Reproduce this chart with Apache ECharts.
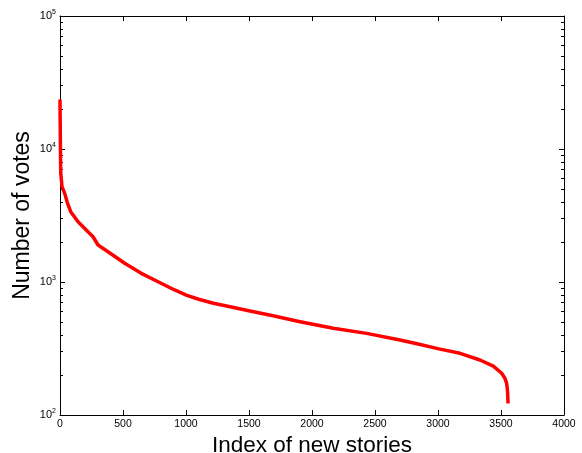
<!DOCTYPE html>
<html><head><meta charset="utf-8">
<script src="https://cdn.jsdelivr.net/npm/echarts@6/dist/echarts.min.js"></script>
<style>html,body{margin:0;padding:0;background:#fff}#c{width:582px;height:453px}</style>
</head><body><div id="c"></div>
<script>
var storyIndex = [0,2,4,6,16,37,60,85,143,222,262,302,381,513,645,778,910,1002,1100,1217,1360,1508,1700,1905,2169,2434,2698,2850,3016,3175,3333,3439,3505,3530,3545,3552,3556];
var votes = [23600,14000,9000,6560,5210,4645,3900,3380,2840,2390,2190,1898,1690,1383,1162,1005,871,798,742,692,648,605,555,503,449,411,366,340,313,291,259,233,206,190,173,150,122];
var xTicks = [0,500,1000,1500,2000,2500,3000,3500,4000];
var yMajor = [100,1000,10000,100000];
var yMinor = [];
[100,1000,10000].forEach(function(d){for(var k=2;k<=9;k++)yMinor.push(d*k);});

var pts = storyIndex.map(function(x,i){return [x,votes[i]];});
var font = 'Liberation Sans, Arial, sans-serif';
var chart = echarts.init(document.getElementById('c'));
var yLab = {
  fontFamily: font, color:'#000', margin: 4,
  formatter: function(v){ var e=Math.round(Math.log10(v)); return '{b|10}{s|'+e+'}'; },
  rich: { b:{fontSize:11, fontFamily:font, color:'#000'}, s:{fontSize:7, fontFamily:font, color:'#000', padding:[0,0,8,0]} }
};
chart.setOption({
  animation:false,
  grid:{left:60,right:18,top:16,bottom:38,containLabel:false,outerBoundsMode:'none'},
  xAxis:[{
    type:'value',min:0,max:4000,interval:500,
    name:'Index of new stories',nameLocation:'middle',nameGap:19,nameMoveOverlap:false,
    nameTextStyle:{fontSize:22.5,fontFamily:font,color:'#000',verticalAlign:'top'},
    axisLine:{show:true,lineStyle:{color:'#000',width:1}},
    axisTick:{show:true,inside:true,length:5,lineStyle:{color:'#000'},customValues:xTicks},
    axisLabel:{fontSize:10.5,fontFamily:font,color:'#000',margin:4,customValues:xTicks,formatter:function(v){return String(v);}},
    splitLine:{show:false}
  },{
    type:'value',min:0,max:4000,interval:500,position:'top',
    axisLine:{show:true,onZero:false,lineStyle:{color:'#000',width:1}},
    axisTick:{show:true,inside:true,length:5,lineStyle:{color:'#000'},customValues:xTicks},
    axisLabel:{show:false},splitLine:{show:false}
  }],
  yAxis:[{
    type:'log',logBase:10,min:100,max:100000,
    name:'Number of votes',nameLocation:'middle',nameGap:26,nameMoveOverlap:false,
    nameTextStyle:{fontSize:23,fontFamily:font,color:'#000'},
    axisLine:{show:true,lineStyle:{color:'#000',width:1}},
    axisTick:{show:true,inside:true,length:5,lineStyle:{color:'#000'},customValues:yMajor},
    axisLabel:Object.assign({customValues:yMajor},yLab),
    splitLine:{show:false}
  },{
    type:'log',logBase:10,min:100,max:100000,position:'right',
    axisLine:{show:true,onZero:false,lineStyle:{color:'#000',width:1}},
    axisTick:{show:true,inside:true,length:5,lineStyle:{color:'#000'},customValues:yMajor},
    axisLabel:{show:false},splitLine:{show:false}
  },{
    type:'log',logBase:10,min:100,max:100000,position:'left',
    axisLine:{show:false},
    axisTick:{show:true,inside:true,length:3,lineStyle:{color:'#000'},customValues:yMinor},
    axisLabel:{show:false},splitLine:{show:false}
  },{
    type:'log',logBase:10,min:100,max:100000,position:'right',
    axisLine:{show:false},
    axisTick:{show:true,inside:true,length:3,lineStyle:{color:'#000'},customValues:yMinor},
    axisLabel:{show:false},splitLine:{show:false}
  }],
  series:[{
    type:'line',data:pts,showSymbol:false,symbol:'none',
    lineStyle:{color:'#ff0000',width:3.5,join:'round',cap:'butt'},
    xAxisIndex:0,yAxisIndex:0
  }]
});
</script></body></html>
